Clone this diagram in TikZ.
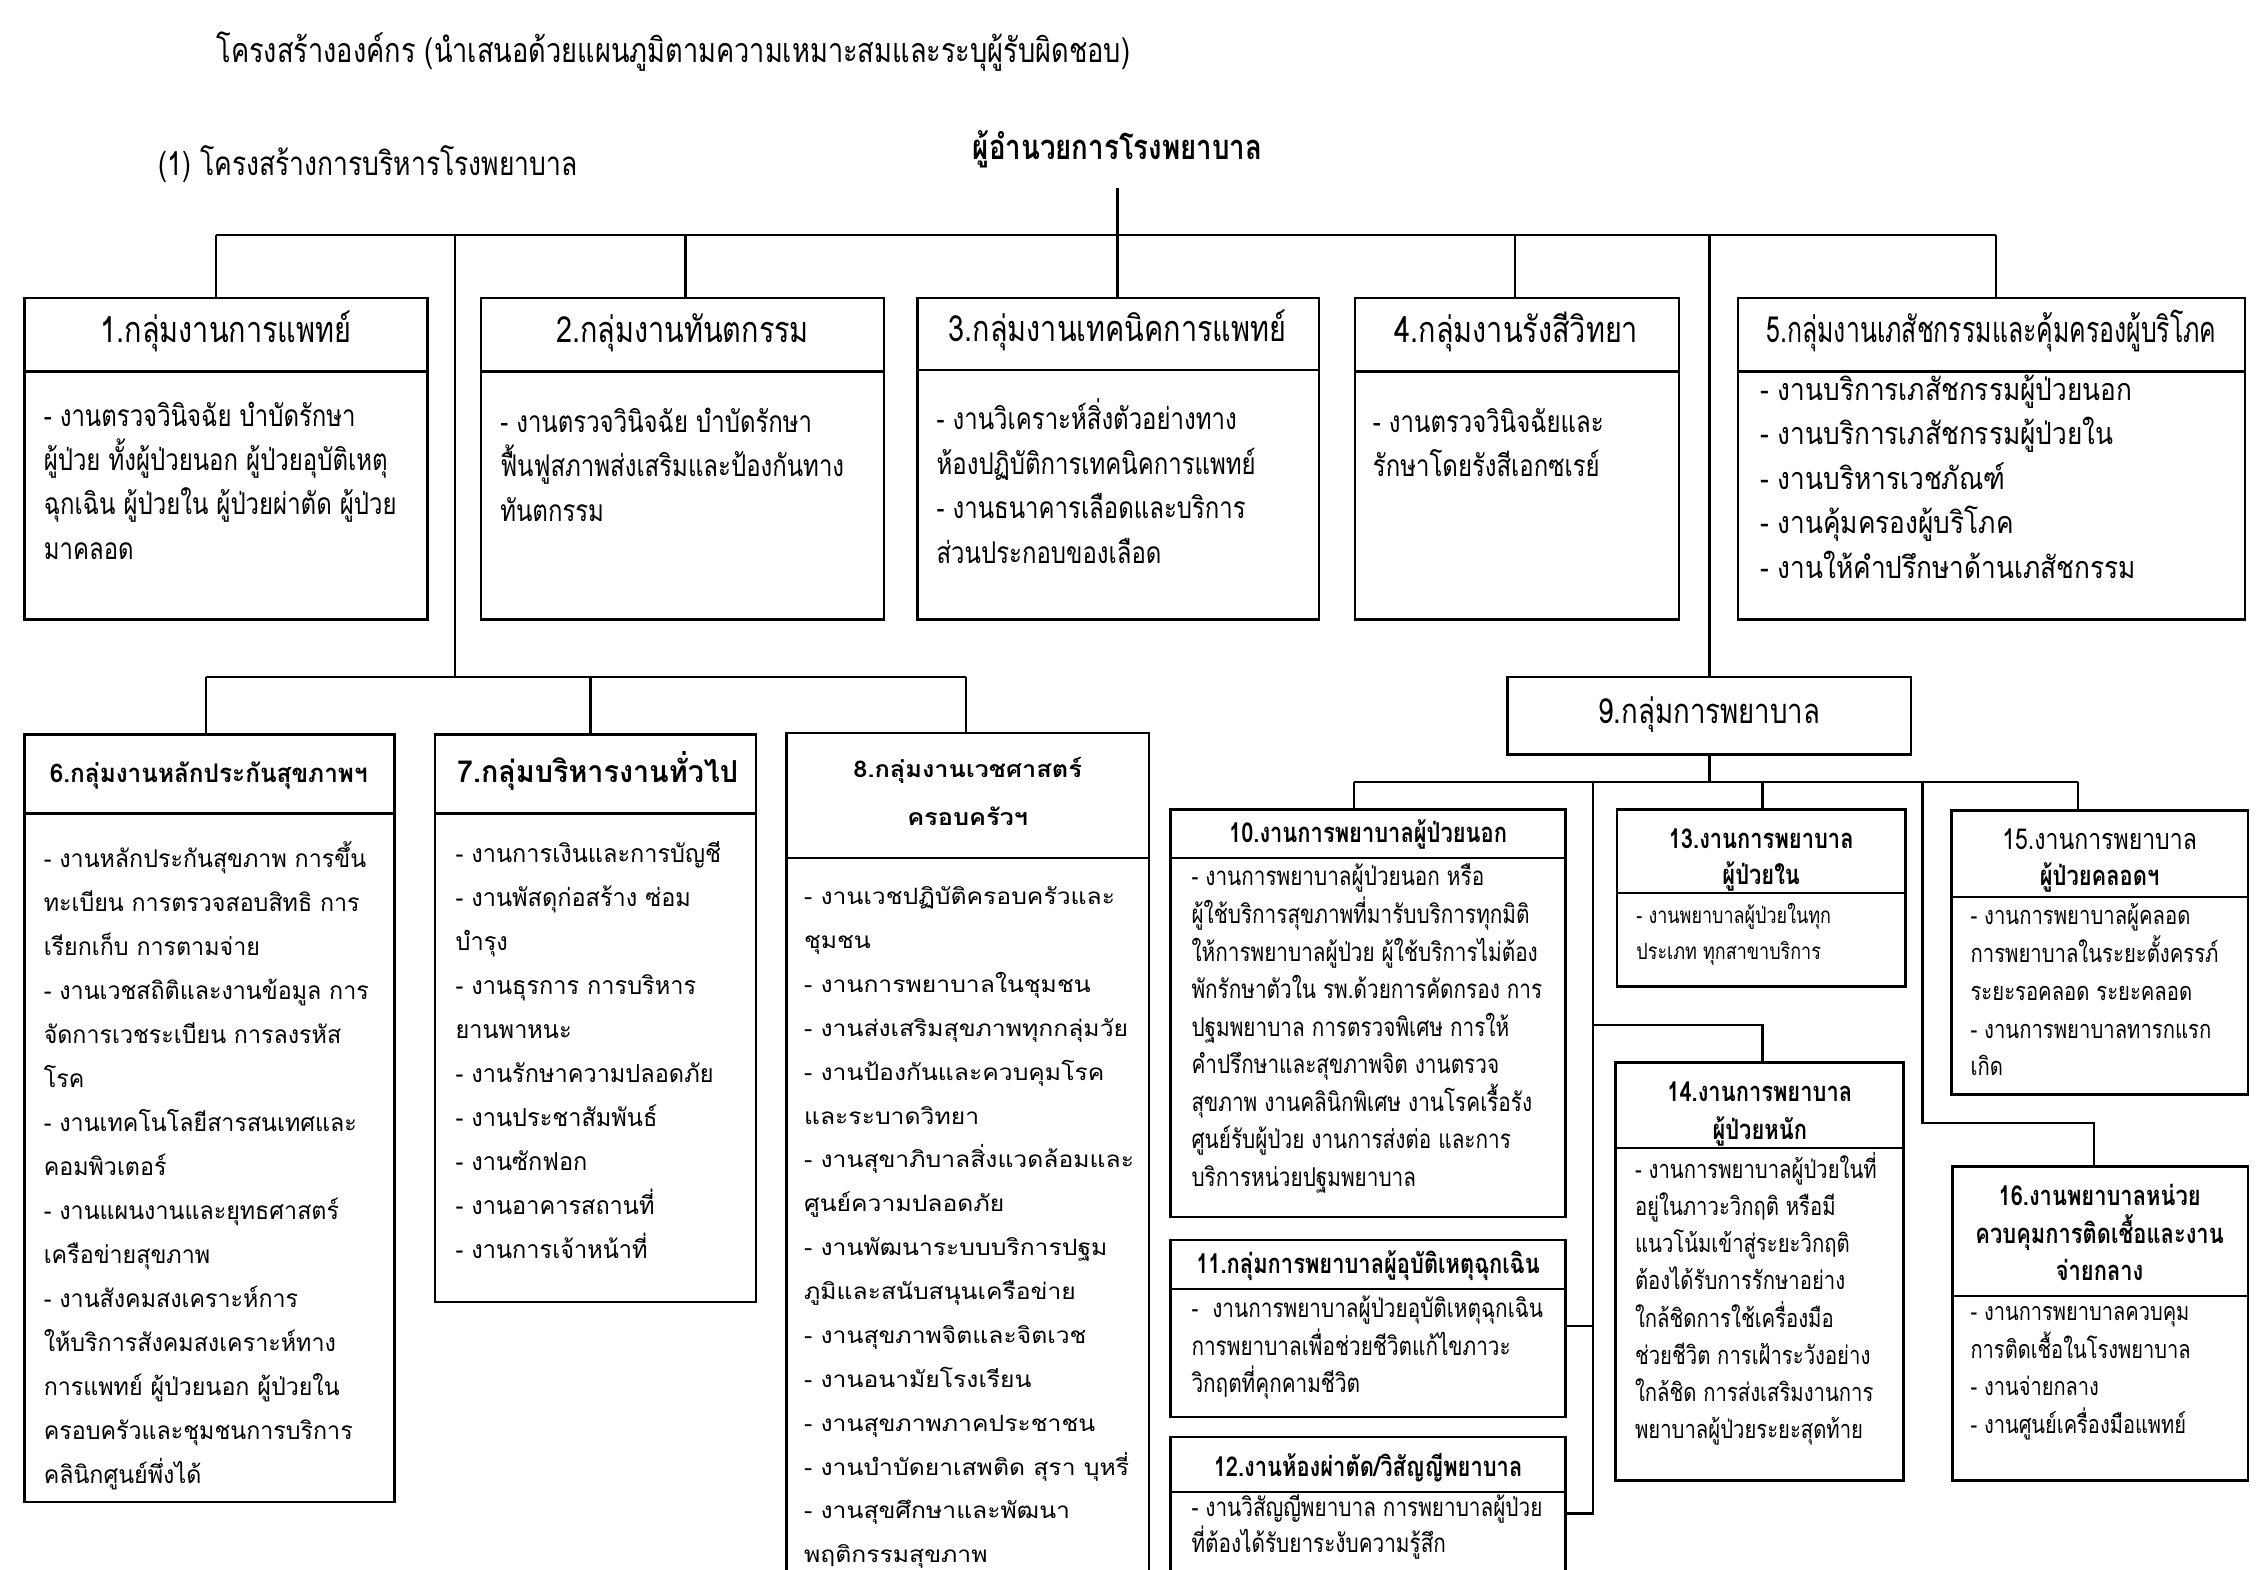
\documentclass[tikz,border=0pt]{standalone}
\usepackage{fontspec}
\setmainfont[Script=Thai]{Loma}
\newfontfamily\thA[Script=Thai,FakeStretch=0.8]{Loma}
\newfontfamily\thAA[Script=Thai,FakeStretch=0.69]{Loma}
\newfontfamily\thAB[Script=Thai,FakeStretch=0.86]{Loma}
\newfontfamily\thB[Script=Thai,FakeStretch=0.95]{Loma}
\newfontfamily\thC[Script=Thai,FakeStretch=1.1]{Loma}
\newcommand{\obox}[5]{\node[bx, minimum width={(#4-#2)*0.5pt}, minimum height={(#5-#3)*0.5pt}] (#1) at (#2,#3) {};}
\newcommand{\odiv}[2]{\draw[ln] (#1.west |- 0,#2) -- (#1.east |- 0,#2);}
\newcommand{\blines}[6]{\foreach \t [count=\i] in {#6} {\node[tx, font=#2] (#1l\i) at (#3, {#4+(\i-1)*#5}) {\t};}}
\begin{document}
\begin{tikzpicture}[x=0.5pt, y=-0.5pt,
  bx/.style={draw, line width=0.9pt, inner sep=0pt, outer sep=0pt, anchor=north west},
  ln/.style={line width=0.8pt},
  tx/.style={inner sep=0pt, anchor=mid west},
  hc/.style={inner sep=0pt, anchor=mid},
  fT/.style={font=\thA\fontsize{11.8}{13}\selectfont},
  fH1/.style={font=\thA\fontsize{12.5}{14}\selectfont},
  fHA/.style={font=\thA\bfseries\fontsize{9.5}{12}\selectfont}]
\useasboundingbox[fill=white] (0,0) rectangle (1568,1090);

% titles
\node[tx, fT] (title) at (150,38) {โครงสร้างองค์กร (นำเสนอด้วยแผนภูมิตามความเหมาะสมและระบุผู้รับผิดชอบ)};
\node[tx, font=\thA\fontsize{11.5}{13}\selectfont] (sub) at (110,117) {(1) โครงสร้างการบริหารโรงพยาบาล};
\node[inner sep=0pt, minimum height=26pt, font=\thA\bfseries\fontsize{12}{14}\selectfont] (dir) at (776,104) {ผู้อำนวยการโรงพยาบาล};

% row 1 boxes
\obox{b1}{17}{207}{297}{430}\odiv{b1}{258}
\obox{b2}{334}{207}{614}{430}\odiv{b2}{258}
\obox{b3}{637}{207}{916}{430}\odiv{b3}{257}
\obox{b4}{941}{207}{1166}{430}\odiv{b4}{258}
\obox{b5}{1207}{207}{1559}{430}\odiv{b5}{258}
\node[hc, fH1] (b1h) at (157,233) {1.กลุ่มงานการแพทย์};
\node[hc, fH1] (b2h) at (474,233) {2.กลุ่มงานทันตกรรม};
\node[hc, fH1] (b3h) at (776,232) {3.กลุ่มงานเทคนิคการแพทย์};
\node[hc, fH1] (b4h) at (1053,233) {4.กลุ่มงานรังสีวิทยา};
\node[hc, font=\thAA\fontsize{12.5}{14}\selectfont] (b5h) at (1383,233) {5.กลุ่มงานเภสัชกรรมและคุ้มครองผู้บริโภค};
\blines{b1}{\thA\fontsize{10.4}{12}\selectfont}{30}{291}{30.7}{- งานตรวจวินิจฉัย บำบัดรักษา, ผู้ป่วย ทั้งผู้ป่วยนอก ผู้ป่วยอุบัติเหตุ, ฉุกเฉิน ผู้ป่วยใน ผู้ป่วยผ่าตัด ผู้ป่วย, มาคลอด}
\blines{b2}{\thA\fontsize{10.4}{12}\selectfont}{347}{295}{31}{- งานตรวจวินิจฉัย บำบัดรักษา, ฟื้นฟูสภาพส่งเสริมและป้องกันทาง, ทันตกรรม}
\blines{b3}{\thA\fontsize{10.4}{12}\selectfont}{650}{293}{31}{- งานวิเคราะห์สิ่งตัวอย่างทาง, ห้องปฏิบัติการเทคนิคการแพทย์, - งานธนาคารเลือดและบริการ, ส่วนประกอบของเลือด}
\blines{b4}{\thA\fontsize{10.4}{12}\selectfont}{953}{295}{31}{- งานตรวจวินิจฉัยและ, รักษาโดยรังสีเอกซเรย์}
\blines{b5}{\thAB\fontsize{10.6}{13}\selectfont}{1222}{273}{30.8}{- งานบริการเภสัชกรรมผู้ป่วยนอก, - งานบริการเภสัชกรรมผู้ป่วยใน, - งานบริหารเวชภัณฑ์, - งานคุ้มครองผู้บริโภค, - งานให้คำปรึกษาด้านเภสัชกรรม}

% row 1 connectors
\coordinate (busL) at (150,163);
\coordinate (busR) at (1386,163);
\coordinate (j2) at (476,163);
\coordinate (j4) at (1052,163);
\coordinate (jL) at (316,163);
\coordinate (jN) at (1187,163);
\draw[ln] (dir.south) -- (dir.south |- b3.north);
\draw[ln] (busL) -- (busR);
\draw[ln] (busL) -- (busL |- b1.north);
\draw[ln] (j2) -- (j2 |- b2.north);
\draw[ln] (j4) -- (j4 |- b4.north);
\draw[ln] (busR) -- (busR |- b5.north);

% row 2
\obox{b6}{17}{510}{274}{1043}\odiv{b6}{565}
\obox{b7}{302}{510}{525}{904}\odiv{b7}{565}
\obox{b8}{546}{509}{798}{1110}\odiv{b8}{596}
\node[hc, font=\thB\bfseries\fontsize{8.9}{12}\selectfont] (b6h) at (145,538) {6.กลุ่มงานหลักประกันสุขภาพฯ};
\node[hc, font=\thB\bfseries\fontsize{10.5}{13}\selectfont] (b7h) at (415,538) {7.กลุ่มบริหารงานทั่วไป};
\node[hc, font=\thC\bfseries\fontsize{8}{12}\selectfont] (b8h1) at (672,535) {8.กลุ่มงานเวชศาสตร์};
\node[hc, font=\thC\bfseries\fontsize{8}{12}\selectfont] (b8h2) at (672,568) {ครอบครัวฯ};
\blines{b6}{\thB\fontsize{8.5}{10}\selectfont}{30}{597}{30.57}{- งานหลักประกันสุขภาพ การขึ้น, ทะเบียน การตรวจสอบสิทธิ การ, เรียกเก็บ การตามจ่าย, - งานเวชสถิติและงานข้อมูล การ, จัดการเวชระเบียน การลงรหัส, โรค, - งานเทคโนโลยีสารสนเทศและ, คอมพิวเตอร์, - งานแผนงานและยุทธศาสตร์, เครือข่ายสุขภาพ, - งานสังคมสงเคราะห์การ, ให้บริการสังคมสงเคราะห์ทาง, การแพทย์ ผู้ป่วยนอก ผู้ป่วยใน, ครอบครัวและชุมชนการบริการ, คลินิกศูนย์พึ่งได้}
\blines{b7}{\thB\fontsize{8.6}{10}\selectfont}{316}{594}{30.56}{- งานการเงินและการบัญชี, - งานพัสดุก่อสร้าง ซ่อม, บำรุง, - งานธุรการ การบริหาร, ยานพาหนะ, - งานรักษาความปลอดภัย, - งานประชาสัมพันธ์, - งานซักฟอก, - งานอาคารสถานที่, - งานการเจ้าหน้าที่}
\blines{b8}{\thC\fontsize{7.8}{10}\selectfont}{558}{623}{30.47}{- งานเวชปฏิบัติครอบครัวและ, ชุมชน, - งานการพยาบาลในชุมชน, - งานส่งเสริมสุขภาพทุกกลุ่มวัย, - งานป้องกันและควบคุมโรค, และระบาดวิทยา, - งานสุขาภิบาลสิ่งแวดล้อมและ, ศูนย์ความปลอดภัย, - งานพัฒนาระบบบริการปฐม, ภูมิและสนับสนุนเครือข่าย, - งานสุขภาพจิตและจิตเวช, - งานอนามัยโรงเรียน, - งานสุขภาพภาคประชาชน, - งานบำบัดยาเสพติด สุรา บุหรี่, - งานสุขศึกษาและพัฒนา, พฤติกรรมสุขภาพ}

\coordinate (bus2L) at (143,470);
\coordinate (bus2R) at (671,470);
\coordinate (k7) at (410,470);
\draw[ln] (jL) -- (jL |- bus2L);
\draw[ln] (bus2L) -- (bus2R);
\draw[ln] (bus2L) -- (bus2L |- b6.north);
\draw[ln] (k7) -- (k7 |- b7.north);
\draw[ln] (bus2R) -- (bus2R |- b8.north);

% nursing group
\obox{b9}{1047}{470}{1327}{524}
\node[hc, font=\thA\fontsize{12}{14}\selectfont] (b9t) at (1187,497) {9.กลุ่มการพยาบาล};
\draw[ln] (jN) -- (b9.north);

\obox{b10}{813}{562}{1087}{845}\odiv{b10}{596}
\obox{b11}{813}{861}{1087}{984}\odiv{b11}{895}
\obox{b12}{813}{998}{1087}{1110}\odiv{b12}{1036}
\obox{b13}{1123}{562}{1323}{685}\odiv{b13}{620}
\obox{b14}{1122}{738}{1322}{1028}\odiv{b14}{797}
\obox{b15}{1355}{563}{1561}{760}\odiv{b15}{623}
\obox{b16}{1356}{810}{1561}{1028}\odiv{b16}{900}

\node[hc, fHA] (b10h) at (950,580) {10.งานการพยาบาลผู้ป่วยนอก};
\node[hc, fHA] (b11h) at (950,879) {11.กลุ่มการพยาบาลผู้อุบัติเหตุฉุกเฉิน};
\node[hc, fHA] (b12h) at (950,1020) {12.งานห้องผ่าตัด/วิสัญญีพยาบาล};
\node[hc, fHA] (b13h1) at (1223,584) {13.งานการพยาบาล};
\node[hc, fHA] (b13h2) at (1223,609) {ผู้ป่วยใน};
\node[hc, fHA] (b14h1) at (1222,760) {14.งานการพยาบาล};
\node[hc, fHA] (b14h2) at (1222,786) {ผู้ป่วยหนัก};
\node[hc, font=\thA\fontsize{10}{12}\selectfont] (b15h1) at (1458,585) {15.งานการพยาบาล};
\node[hc, fHA] (b15h2) at (1458,610) {ผู้ป่วยคลอดฯ};
\node[hc, fHA] (b16h1) at (1458,832) {16.งานพยาบาลหน่วย};
\node[hc, fHA] (b16h2) at (1458,858) {ควบคุมการติดเชื้อและงาน};
\node[hc, fHA] (b16h3) at (1458,884) {จ่ายกลาง};

\blines{b10}{\thA\fontsize{9}{11}\selectfont}{827}{610}{26.1}{- งานการพยาบาลผู้ป่วยนอก หรือ, ผู้ใช้บริการสุขภาพที่มารับบริการทุกมิติ, ให้การพยาบาลผู้ป่วย ผู้ใช้บริการไม่ต้อง, พักรักษาตัวใน รพ.ด้วยการคัดกรอง การ, ปฐมพยาบาล การตรวจพิเศษ การให้, คำปรึกษาและสุขภาพจิต งานตรวจ, สุขภาพ งานคลินิกพิเศษ งานโรคเรื้อรัง, ศูนย์รับผู้ป่วย งานการส่งต่อ และการ, บริการหน่วยปฐมพยาบาล}
\blines{b11}{\thA\fontsize{9}{11}\selectfont}{827}{910}{26}{-\ \ งานการพยาบาลผู้ป่วยอุบัติเหตุฉุกเฉิน, การพยาบาลเพื่อช่วยชีวิตแก้ไขภาวะ, วิกฤตที่คุกคามชีวิต}
\blines{b12}{\thA\fontsize{9}{11}\selectfont}{827}{1048}{25}{- งานวิสัญญีพยาบาล การพยาบาลผู้ป่วย, ที่ต้องได้รับยาระงับความรู้สึก}
\blines{b13}{\thA\fontsize{7.8}{10}\selectfont}{1136}{636}{25}{- งานพยาบาลผู้ป่วยในทุก, ประเภท ทุกสาขาบริการ}
\blines{b14}{\thA\fontsize{8.8}{10}\selectfont}{1135}{813}{25.86}{- งานการพยาบาลผู้ป่วยในที่, อยู่ในภาวะวิกฤติ หรือมี, แนวโน้มเข้าสู่ระยะวิกฤติ, ต้องได้รับการรักษาอย่าง, ใกล้ชิดการใช้เครื่องมือ, ช่วยชีวิต การเฝ้าระวังอย่าง, ใกล้ชิด การส่งเสริมงานการ, พยาบาลผู้ป่วยระยะสุดท้าย}
\blines{b15}{\thA\fontsize{8.8}{10}\selectfont}{1368}{637}{26.25}{- งานการพยาบาลผู้คลอด, การพยาบาลในระยะตั้งครรภ์, ระยะรอคลอด ระยะคลอด, - งานการพยาบาลทารกแรก, เกิด}
\blines{b16}{\thA\fontsize{8.7}{10}\selectfont}{1368}{912}{26}{- งานการพยาบาลควบคุม, การติดเชื้อในโรงพยาบาล, - งานจ่ายกลาง, - งานศูนย์เครื่องมือแพทย์}

% nursing connectors
\coordinate (bus3L) at (940,543);
\coordinate (bus3R) at (1443,543);
\coordinate (m1) at (1106,543);
\coordinate (m2) at (1224,543);
\coordinate (m3) at (1335,543);
\coordinate (t14) at (1106,712);
\coordinate (t14b) at (1224,712);
\coordinate (t16) at (1335,780);
\coordinate (t16b) at (1454,780);
\draw[ln] (b9.south) -- (b9.south |- bus3L);
\draw[ln] (bus3L) -- (bus3R);
\draw[ln] (bus3L) -- (bus3L |- b10.north);
\draw[ln] (m2) -- (m2 |- b13.north);
\draw[ln] (bus3R) -- (bus3R |- b15.north);
\draw[ln] (m1) -- (m1 |- 0,1051) -- (b12.east |- 0,1051);
\draw[ln] (t14) -- (t14b) -- (t14b |- b14.north);
\draw[ln] (m1 |- 0,921) -- (b11.east |- 0,921);
\draw[ln] (m3) -- (t16) -- (t16b) -- (t16b |- b16.north);
\end{tikzpicture}
\end{document}
